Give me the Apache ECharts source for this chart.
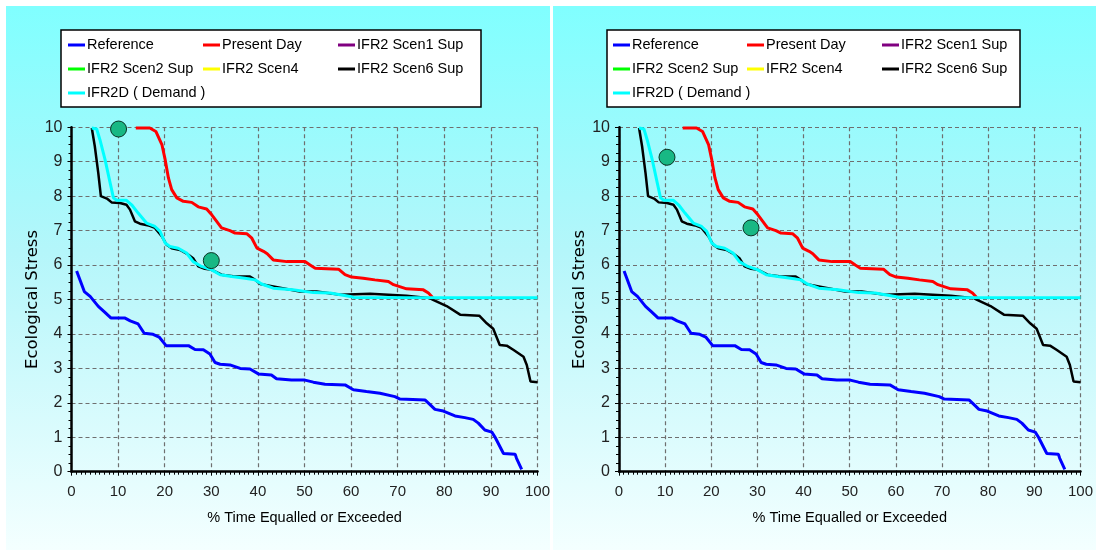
<!DOCTYPE html>
<html>
<head>
<meta charset="utf-8">
<script src="https://cdn.jsdelivr.net/npm/echarts@6/dist/echarts.min.js"></script>
<style>
  html, body { margin: 0; padding: 0; background: #fff; }
  #chart { width: 1096px; height: 550px; }
</style>
</head>
<body>
<div id="chart"></div>
<script>
// values (x = % time, y = ecological stress)
const seriesNames = ['Reference', 'Present Day', 'IFR2 Scen1 Sup', 'IFR2 Scen2 Sup', 'IFR2 Scen4', 'IFR2 Scen6 Sup', 'IFR2D ( Demand )'];
const seriesColors = ['#0000ff', '#ff0000', '#800080', '#00ff00', '#ffff00', '#000000', '#00ffff'];

const referenceData = [[1.1,5.83],[2.75,5.23],[4.0,5.09],[5.75,4.80],[7.0,4.65],[8.5,4.46],[11.5,4.46],[12.6,4.38],[14.3,4.29],[15.6,4.02],[17.5,3.99],[18.8,3.91],[20.3,3.66],[25.1,3.66],[26.5,3.55],[28.3,3.54],[29.7,3.42],[30.8,3.17],[31.9,3.12],[34.0,3.10],[36.2,3.0],[38.3,2.98],[40.1,2.84],[42.9,2.81],[44.0,2.70],[47.2,2.66],[50.1,2.66],[51.9,2.60],[54.4,2.54],[58.7,2.52],[60.5,2.38],[63.3,2.33],[66.2,2.28],[69.4,2.18],[70.5,2.11],[75.9,2.08],[76.6,1.99],[78.0,1.81],[79.8,1.76],[82.3,1.62],[84.4,1.57],[86.2,1.52],[87.3,1.41],[88.7,1.21],[90.2,1.15],[90.9,1.0],[92.7,0.53],[95.2,0.51],[95.5,0.39],[96.6,0.07]];

const presentDayData = [[13.8,9.98],[16.8,9.98],[18.1,9.88],[19.4,9.5],[20.1,9.06],[20.8,8.53],[21.5,8.19],[22.6,7.95],[24.0,7.85],[25.8,7.82],[27.2,7.69],[29.0,7.63],[30.1,7.46],[32.2,7.08],[34.0,7.0],[35.1,6.93],[37.6,6.91],[38.7,6.78],[39.8,6.49],[41.2,6.40],[42.0,6.33],[43.3,6.15],[46.2,6.10],[50.1,6.10],[51.2,6.0],[52.3,5.91],[57.3,5.88],[58.7,5.72],[60.1,5.65],[62.6,5.62],[65.1,5.57],[68.0,5.52],[69.1,5.43],[71.9,5.31],[75.5,5.28],[76.6,5.19],[77.5,5.06]];

const scen1Data = [];
const scen2Data = [];
const scen4Data = [];

const scen6Data = [[4.35,9.98],[5.0,9.45],[5.75,8.67],[6.3,8.0],[7.6,7.93],[8.6,7.82],[10.4,7.80],[11.8,7.75],[12.55,7.61],[13.6,7.27],[14.7,7.20],[16.8,7.14],[17.9,7.08],[19.4,6.83],[20.4,6.59],[21.5,6.49],[23.3,6.44],[25.1,6.30],[26.1,6.20],[27.2,5.96],[28.6,5.89],[30.1,5.86],[32.2,5.72],[35.1,5.67],[38.3,5.67],[39.4,5.57],[40.5,5.45],[43.3,5.38],[49.0,5.23],[52.6,5.23],[57.7,5.14],[64.1,5.17],[71.9,5.11],[76.9,5.04],[77.6,4.99],[80.5,4.81],[83.4,4.56],[87.5,4.53],[89.1,4.31],[90.5,4.15],[91.9,3.68],[93.4,3.66],[94.8,3.54],[97.0,3.34],[97.7,3.10],[98.5,2.62],[100,2.60]];

const demandData = [[4.35,9.98],[5.4,9.95],[6.1,9.64],[7.2,9.06],[8.3,8.38],[9.0,7.95],[9.7,7.88],[11.8,7.88],[12.9,7.75],[14.3,7.51],[16.1,7.22],[17.9,7.12],[19.0,6.98],[20.1,6.64],[21.1,6.54],[22.9,6.49],[24.7,6.35],[26.1,6.10],[27.9,5.96],[30.1,5.86],[31.9,5.72],[34.4,5.67],[37.2,5.62],[39.4,5.57],[40.8,5.45],[43.3,5.33],[47.5,5.28],[51.9,5.20],[55.5,5.19],[59.8,5.09],[60.5,5.06],[100,5.05]];

// green observation dots, one pair per panel
const leftPoints = [[10.1,9.95],[30.0,6.13]];
const rightPoints = [[10.4,9.13],[28.6,7.08]];

const xTicks = [0, 10, 20, 30, 40, 50, 60, 70, 80, 90, 100];
const yTicks = [0, 1, 2, 3, 4, 5, 6, 7, 8, 9, 10];

const lineData = [referenceData, presentDayData, scen1Data, scen2Data, scen4Data, scen6Data, demandData];

const sans = '"Liberation Sans", Arial, sans-serif';
const wide = '"DejaVu Sans", Verdana, sans-serif';

const chart = echarts.init(document.getElementById('chart'));

function bgRect(x, w) {
  return {
    type: 'rect', z: -10, silent: true,
    shape: { x: x, y: 6, width: w, height: 544 },
    style: {
      fill: new echarts.graphic.LinearGradient(0, 0, 0, 1, [
        { offset: 0, color: '#80ffff' },
        { offset: 0.45, color: '#b4f6fa' },
        { offset: 1, color: '#f4ffff' }
      ])
    }
  };
}

function legendBox(x, w) {
  return {
    type: 'rect', z: 1, silent: true,
    shape: { x: x, y: 30, width: w, height: 77 },
    style: { fill: '#ffffff', stroke: '#000000', lineWidth: 1.5 }
  };
}

const columns = [[0, 3, 6], [1, 4], [2, 5]];
function legends(lefts) {
  return columns.map(function (col, i) {
    return {
      orient: 'vertical',
      left: lefts[i], top: 37, z: 5,
      itemWidth: 17, itemHeight: 3, itemGap: 8,
      icon: 'rect',
      padding: 0,
      textStyle: { fontFamily: sans, fontSize: 14.5, color: '#000', lineHeight: 16, padding: [0, 0, 0, -3] },
      data: col.map(function (k) { return { name: seriesNames[k], itemStyle: { color: seriesColors[k] } }; })
    };
  });
}

function xAxis(gi) {
  return {
    type: 'value', gridIndex: gi, min: 0, max: 100, interval: 10,
    name: '% Time Equalled or Exceeded', nameLocation: 'middle', nameGap: 39,
    nameTextStyle: { fontFamily: sans, fontSize: 14.5, color: '#000' },
    axisLine: { onZero: false, lineStyle: { color: '#000', width: 2.5 } },
    axisTick: { length: 4, lineStyle: { color: '#000' } },
    minorTick: { show: true, splitNumber: 10, length: 3, lineStyle: { color: '#000' } },
    axisLabel: { fontFamily: sans, fontSize: 15, color: '#222', margin: 13,
      formatter: function (v) { return xTicks.indexOf(v) >= 0 ? String(v) : ''; } },
    splitLine: { show: true, lineStyle: { color: '#6f6f6f', type: [4, 3], width: 1.2 } }
  };
}

function yAxis(gi) {
  return {
    type: 'value', gridIndex: gi, min: 0, max: 10, interval: 1,
    name: 'Ecological Stress', nameLocation: 'middle', nameGap: 19, nameRotate: 90,
    nameTextStyle: { fontFamily: wide, fontSize: 16.5, color: '#000' },
    axisLine: { show: true, onZero: false, lineStyle: { color: '#000', width: 2.5 } },
    axisTick: { show: true, length: 4, lineStyle: { color: '#000' } },
    minorTick: { show: true, splitNumber: 4, length: 3, lineStyle: { color: '#000' } },
    axisLabel: { fontFamily: sans, fontSize: 16, color: '#222', margin: 9,
      formatter: function (v) { return yTicks.indexOf(v) >= 0 ? String(v) : ''; } },
    splitLine: { show: true, lineStyle: { color: '#6f6f6f', type: [4, 3], width: 1.2 } }
  };
}

const series = [];
[0, 1].forEach(function (gi) {
  lineData.forEach(function (d, k) {
    series.push({
      name: seriesNames[k], type: 'line', xAxisIndex: gi, yAxisIndex: gi,
      data: d, showSymbol: false, symbol: 'none', smooth: false,
      color: seriesColors[k],
      lineStyle: { color: seriesColors[k], width: k === 5 ? 2.5 : 3 },
      z: 2 + k
    });
  });
  series.push({
    name: 'obs' + gi, type: 'scatter', xAxisIndex: gi, yAxisIndex: gi,
    data: gi === 0 ? leftPoints : rightPoints, symbolSize: 16, clip: false, z: 20,
    itemStyle: { color: '#18b884', borderColor: '#0a3324', borderWidth: 1, opacity: 1 }
  });
});

chart.setOption({
  animation: false,
  backgroundColor: '#ffffff',
  graphic: [bgRect(6, 544), bgRect(553, 543), legendBox(61, 420), legendBox(607, 413)],
  legend: legends([68, 203, 338]).concat(legends([613, 747, 882])),
  grid: [
    { left: 71.5, right: 558.5, top: 127.3, bottom: 78.3 },
    { left: 619, right: 14, top: 127.3, bottom: 78.3 }
  ],
  xAxis: [xAxis(0), xAxis(1)],
  yAxis: [yAxis(0), yAxis(1)],
  series: series
});
</script>
</body>
</html>
